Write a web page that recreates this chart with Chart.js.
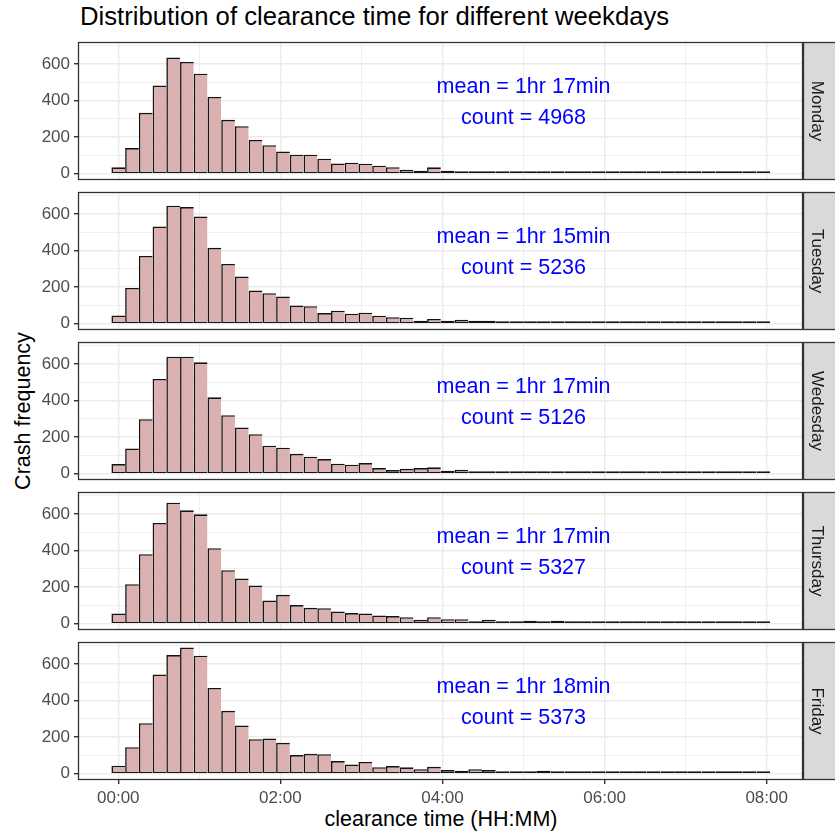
<!DOCTYPE html>
<html>
<head>
<meta charset="utf-8">
<script src="https://cdn.jsdelivr.net/npm/chart.js@4.4.1/dist/chart.umd.min.js"></script>
<style>
  body { margin: 0; background: #fff; width: 835px; height: 834px; position: relative; overflow: hidden;
         font-family: Arial, 'Liberation Sans', sans-serif; }
  canvas { position: absolute; left: 0; }
  .title { position: absolute; left: 80px; top: 2px; font-size: 25.7px; color: #000; white-space: nowrap; }
  .ytitle { position: absolute; left: 23px; top: 411px; font-size: 21.5px; color: #000; white-space: nowrap;
            transform: translate(-50%, -50%) rotate(-90deg); }
  .xtitle { position: absolute; left: 441px; top: 819px; font-size: 21.5px; color: #000; white-space: nowrap;
            transform: translate(-50%, -50%); }
</style>
</head>
<body>
<div class="title">Distribution of clearance time for different weekdays</div>
<div class="ytitle">Crash frequency</div>
<div class="xtitle">clearance time (HH:MM)</div>

<script>
// weekdays shown as facets, top to bottom
const weekdays = ['Monday', 'Tuesday', 'Wedesday', 'Thursday', 'Friday'];
const meanLabels = ['1hr 17min', '1hr 15min', '1hr 17min', '1hr 17min', '1hr 18min'];
const countLabels = [4968, 5236, 5126, 5327, 5373];

// histogram bin width, in hours (48 bins from 0 to ~8 h)
const binWidth = 10.16 / 60;

// crash counts per bin
const monday = [35, 140, 333, 482, 635, 611, 547, 420, 295, 260, 185, 156, 122, 104, 104, 82, 56, 60, 55, 44,
  36, 22, 16, 35, 16, 9, 10, 10, 8, 6, 7, 5, 6, 4, 4, 5, 3, 3, 4, 2, 3, 2, 2, 3, 2, 2, 3, 2];
const tuesday = [45, 196, 371, 531, 645, 638, 587, 415, 327, 258, 182, 167, 149, 100, 96, 58, 71, 55, 60, 44,
  36, 33, 16, 26, 16, 22, 16, 16, 8, 7, 6, 12, 6, 5, 4, 4, 3, 4, 3, 3, 2, 3, 2, 3, 5, 2, 4, 2];
const wednesday = [53, 138, 298, 518, 640, 640, 609, 418, 320, 253, 216, 153, 142, 109, 93, 80, 55, 49, 58, 31,
  20, 27, 31, 35, 16, 22, 12, 8, 6, 9, 5, 4, 7, 5, 4, 3, 6, 3, 3, 2, 4, 2, 3, 2, 4, 2, 2, 3];
const thursday = [56, 216, 380, 551, 662, 620, 598, 413, 293, 247, 209, 127, 158, 102, 87, 85, 67, 58, 56, 45,
  42, 36, 22, 36, 25, 25, 12, 22, 12, 8, 16, 6, 16, 4, 3, 3, 2, 3, 5, 2, 2, 2, 1, 2, 1, 4, 3, 1];
const friday = [44, 145, 276, 542, 649, 690, 645, 469, 344, 264, 189, 193, 169, 102, 109, 107, 69, 51, 64, 36,
  42, 35, 25, 38, 20, 16, 25, 20, 12, 10, 12, 16, 10, 6, 4, 3, 3, 3, 2, 5, 2, 2, 2, 4, 3, 2, 2, 1];
const series = [monday, tuesday, wednesday, thursday, friday];

const xHours = [0, 1, 2, 3, 4, 5, 6, 7, 8];
const yTicks = [0, 100, 200, 300, 400, 500, 600, 700];

const panelTop = 42, panelH = 138, panelGap = 12, padTop = 4;
const FONT = 'Arial, "Liberation Sans", sans-serif';

function hhmm(h) { return (h < 10 ? '0' : '') + h + ':00'; }

const facetPlugin = {
  id: 'facet',
  afterDatasetsDraw(chart, args, opts) {
    const c = chart.ctx, xs = chart.scales.x, ys = chart.scales.y;
    c.save();
    c.fillStyle = '#0000FF';
    c.font = '21.5px ' + FONT;
    c.textAlign = 'center';
    c.textBaseline = 'middle';
    c.fillText('mean = ' + opts.mean, xs.getPixelForValue(5), ys.getPixelForValue(475));
    c.fillText('count = ' + opts.count, xs.getPixelForValue(5), ys.getPixelForValue(305));
    c.restore();
  },
  afterDraw(chart, args, opts) {
    const c = chart.ctx, a = chart.chartArea;
    c.save();
    // strip on the right
    c.fillStyle = '#D9D9D9';
    c.fillRect(a.right, a.top, 40, a.bottom - a.top);
    c.strokeStyle = '#333333';
    c.lineWidth = 1.3;
    c.strokeRect(a.right + 0.5, a.top + 0.5, 40, a.bottom - a.top - 1);
    // panel border
    c.strokeRect(a.left + 0.5, a.top + 0.5, a.right - a.left - 1, a.bottom - a.top - 1);
    // strip text
    c.translate(a.right + 14, (a.top + a.bottom) / 2);
    c.rotate(Math.PI / 2);
    c.fillStyle = '#1A1A1A';
    c.font = '17px ' + FONT;
    c.textAlign = 'center';
    c.textBaseline = 'middle';
    c.fillText(opts.label, 0, 0);
    c.restore();
  }
};

weekdays.forEach((day, i) => {
  const last = i === weekdays.length - 1;
  const cv = document.createElement('canvas');
  const h = last ? padTop + panelH + 48 : padTop + panelH + 4;
  cv.width = 835;
  cv.height = h;
  cv.style.top = (panelTop + i * (panelH + panelGap) - padTop) + 'px';
  document.body.appendChild(cv);

  const values = series[i];
  new Chart(cv, {
    type: 'bar',
    data: {
      datasets: [{
        data: values.map((v, k) => ({ x: k * binWidth, y: v })),
        backgroundColor: '#DAB0B0',
        borderColor: '#141414',
        // outlines shared between neighbours: left edge of each bar, right edge only on the last one
        borderWidth: ctx => ({ top: 1.6, bottom: 1.4, left: 1.6, right: ctx.dataIndex === values.length - 1 ? 1.6 : 0 }),
        borderSkipped: false,
        barPercentage: 1,
        categoryPercentage: 1,
        inflateAmount: 0,
        minBarLength: 2.6
      }]
    },
    options: {
      responsive: false,
      animation: false,
      devicePixelRatio: 1,
      layout: { padding: { top: padTop, right: 32, bottom: 0, left: 0 } },
      plugins: {
        legend: { display: false },
        tooltip: { enabled: false },
        facet: { label: day, mean: meanLabels[i], count: countLabels[i] }
      },
      scales: {
        x: {
          type: 'linear',
          offset: false,
          min: -0.497,
          max: 8.448,
          afterBuildTicks: s => { s.ticks = xHours.map(v => ({ value: v })); },
          afterFit: s => {
            s.height = last ? 48 : 4;
            s.paddingLeft = 0; s.paddingRight = 0;
          },
          border: { display: false },
          grid: {
            offset: false,
            color: '#EBEBEB',
            lineWidth: ctx => (ctx.tick && ctx.tick.value % 2 === 0) ? 1.4 : 0.8,
            drawTicks: last,
            tickLength: 4,
            tickColor: ctx => (ctx.tick && ctx.tick.value % 2 === 0) ? '#333333' : 'rgba(0,0,0,0)'
          },
          ticks: {
            display: last,
            autoSkip: false,
            maxRotation: 0,
            padding: 4,
            color: '#4D4D4D',
            font: { size: 17, family: FONT },
            callback: v => v % 2 === 0 ? hhmm(v) : ''
          }
        },
        y: {
          min: -34.3,
          max: 720.3,
          afterBuildTicks: s => { s.ticks = yTicks.map(v => ({ value: v })); },
          afterFit: s => {
            s.width = 78;
            s.paddingTop = 0; s.paddingBottom = 0;
          },
          border: { display: false },
          grid: {
            color: '#EBEBEB',
            lineWidth: ctx => (ctx.tick && ctx.tick.value % 200 === 0) ? 1.4 : 0.8,
            tickLength: 4,
            tickColor: ctx => (ctx.tick && ctx.tick.value % 200 === 0) ? '#333333' : 'rgba(0,0,0,0)'
          },
          ticks: {
            autoSkip: false,
            padding: 4,
            color: '#4D4D4D',
            font: { size: 17, family: FONT },
            callback: v => v % 200 === 0 ? String(v) : ''
          }
        }
      }
    },
    plugins: [facetPlugin]
  });
});
</script>
</body>
</html>
